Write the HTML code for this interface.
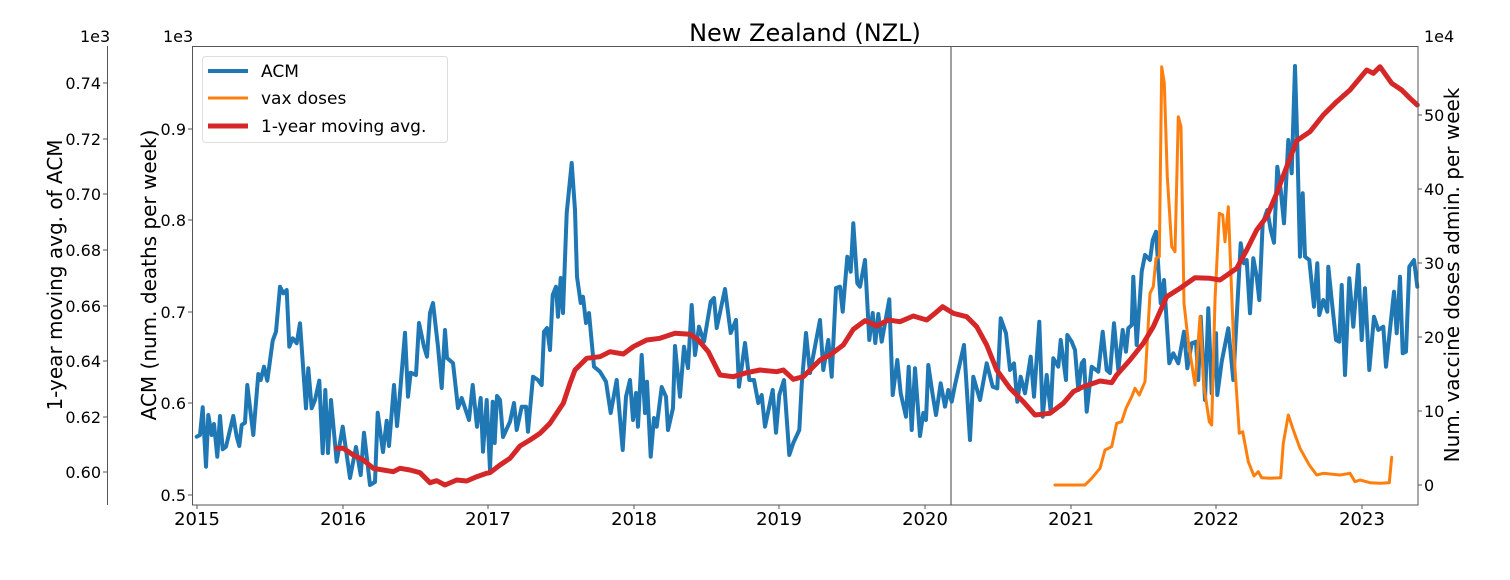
<!DOCTYPE html>
<html><head><meta charset="utf-8"><style>
html,body{margin:0;padding:0;background:#fff}
svg{display:block}
text{font-family:"DejaVu Sans","Liberation Sans",sans-serif;fill:#000}
</style></head><body>
<svg width="1510" height="580" viewBox="0 0 1510 580" xmlns="http://www.w3.org/2000/svg">
<!-- title -->
<text x="805" y="41" font-size="24" text-anchor="middle">New Zealand (NZL)</text>
<!-- outer left axis -->
<line x1="107.5" y1="46" x2="107.5" y2="505" stroke="#555" stroke-width="1"/>
<g font-size="16" text-anchor="end">
<text x="80" y="42" text-anchor="start">1e3</text>
<line x1="103" y1="83" x2="107" y2="83" stroke="#555"/><text x="101" y="89">0.74</text>
<line x1="103" y1="139" x2="107" y2="139" stroke="#555"/><text x="101" y="145">0.72</text>
<line x1="103" y1="194" x2="107" y2="194" stroke="#555"/><text x="101" y="200">0.70</text>
<line x1="103" y1="250" x2="107" y2="250" stroke="#555"/><text x="101" y="256">0.68</text>
<line x1="103" y1="306" x2="107" y2="306" stroke="#555"/><text x="101" y="312">0.66</text>
<line x1="103" y1="361" x2="107" y2="361" stroke="#555"/><text x="101" y="367">0.64</text>
<line x1="103" y1="417" x2="107" y2="417" stroke="#555"/><text x="101" y="423">0.62</text>
<line x1="103" y1="472" x2="107" y2="472" stroke="#555"/><text x="101" y="478">0.60</text>
</g>
<text transform="translate(62,275) rotate(-90)" font-size="20" text-anchor="middle">1-year moving avg. of ACM</text>
<!-- main left axis -->
<g font-size="16" text-anchor="end">
<text x="163" y="42" text-anchor="start">1e3</text>
<line x1="188" y1="495" x2="192" y2="495" stroke="#555"/><text x="186" y="501">0.5</text>
<line x1="188" y1="403" x2="192" y2="403" stroke="#555"/><text x="186" y="409">0.6</text>
<line x1="188" y1="312" x2="192" y2="312" stroke="#555"/><text x="186" y="318">0.7</text>
<line x1="188" y1="220" x2="192" y2="220" stroke="#555"/><text x="186" y="226">0.8</text>
<line x1="188" y1="129" x2="192" y2="129" stroke="#555"/><text x="186" y="135">0.9</text>
</g>
<text transform="translate(156,275) rotate(-90)" font-size="20" text-anchor="middle">ACM (num. deaths per week)</text>
<!-- right axis -->
<g font-size="16" text-anchor="start">
<text x="1424" y="42">1e4</text>
<line x1="1418" y1="485" x2="1422" y2="485" stroke="#555"/><text x="1424" y="491">0</text>
<line x1="1418" y1="411" x2="1422" y2="411" stroke="#555"/><text x="1424" y="417">10</text>
<line x1="1418" y1="337" x2="1422" y2="337" stroke="#555"/><text x="1424" y="343">20</text>
<line x1="1418" y1="263" x2="1422" y2="263" stroke="#555"/><text x="1424" y="269">30</text>
<line x1="1418" y1="189" x2="1422" y2="189" stroke="#555"/><text x="1424" y="195">40</text>
<line x1="1418" y1="115" x2="1422" y2="115" stroke="#555"/><text x="1424" y="121">50</text>
</g>
<text transform="translate(1459,275) rotate(-90)" font-size="20" text-anchor="middle">Num. vaccine doses admin. per week</text>
<!-- x ticks -->
<g font-size="18" text-anchor="middle">
<line x1="197" y1="505" x2="197" y2="509" stroke="#555"/><text x="197" y="525">2015</text>
<line x1="343" y1="505" x2="343" y2="509" stroke="#555"/><text x="343" y="525">2016</text>
<line x1="488" y1="505" x2="488" y2="509" stroke="#555"/><text x="488" y="525">2017</text>
<line x1="634" y1="505" x2="634" y2="509" stroke="#555"/><text x="634" y="525">2018</text>
<line x1="779" y1="505" x2="779" y2="509" stroke="#555"/><text x="779" y="525">2019</text>
<line x1="925" y1="505" x2="925" y2="509" stroke="#555"/><text x="925" y="525">2020</text>
<line x1="1071" y1="505" x2="1071" y2="509" stroke="#555"/><text x="1071" y="525">2021</text>
<line x1="1216" y1="505" x2="1216" y2="509" stroke="#555"/><text x="1216" y="525">2022</text>
<line x1="1362" y1="505" x2="1362" y2="509" stroke="#555"/><text x="1362" y="525">2023</text>
</g>
<!-- vertical line -->
<line x1="951" y1="46" x2="951" y2="505" stroke="#808080" stroke-width="1.5"/>
<g fill="none" stroke-linejoin="round" stroke-linecap="round">
<!-- ACM blue -->
<polyline stroke="#1f77b4" stroke-width="4" points="196.7,436.7 200,435 202.7,407.3 206,466.7 208.3,415 211.7,435 214,424 217.3,456.7 220,416 222.7,449.3 226,446.7 233.3,416 236.7,436.7 239.3,446 241.7,425 245,422.7 247.3,385 253.3,435 258.3,374 260.7,380 264,366.7 267.3,380.7 272.7,340.7 276,331.7 280,286.7 283.3,293.3 286.7,290 289.3,346.7 292.7,338.3 296.7,343.3 300,323.3 306,408.3 308.3,368.3 311.7,408.3 315,400 319.3,380.7 322.7,453.3 325.3,390 328,453 331,400 336.7,461.7 342.7,426.7 350,478 356,447 360.7,475 364,432.7 370,485 375,482 377.7,412.7 383,452 386.7,420.7 389,446 394,385 397,426 399,405 405,332.7 408,396.7 410.7,372.7 416,375 419,323 424,346.7 427,356.7 430,313 433,303 438,346.7 441.7,388 445,330 447,358 453,363 458,408 461.7,398 469,420 472.7,385 477,426.7 480.7,398 483,451.7 486.7,400 490,470 492.7,401.7 494.7,443 497,396 500,400 503,437 510,421.7 514,403 516.7,430 521.7,406.7 526,406.7 528,431.7 533,376.7 538,380 541.7,385 544,331.7 547,328 550,350 552.7,295 556,286.7 558,316.7 560.7,278 563,313 566.7,213 571.7,163 575,210 577,276.7 580.7,303 583,296.7 586,323 589,313 594,366.7 600,371.7 606,381.7 610.7,413 616.7,380 622.7,450 626,396.7 630,380 633,420 636,393 638,426.7 641.7,355 645,413 647,381.7 650.7,456.7 654,418 656.7,426.7 661.7,387 666,396.7 668,430 673,408 675,346 680,396.7 684,346.7 688,368 691.7,305 695,355 699,326.7 704,341.7 710.7,301.7 714,298 716.7,328 725,289 730.7,333 736,320 739,386.7 745,343 749.3,380 754,380 758.3,403 761.7,395 765,426.7 772.7,390 776,432.7 779.3,395 784,380 789.3,455 793.3,443 799.3,430 801.7,385 806,333 810,373 820,320 823.3,370 828.3,340 831.7,376.7 836,288 840,286.7 842.7,311.7 847.3,256.7 850.7,271.7 853.3,223.3 857.3,283.3 860,286.7 865,260 869.3,340 872.7,313 875.3,343 878.3,314 881.7,341.7 889.3,299.3 892.7,395 897.3,360 900.7,393.3 906,416.7 908.7,366.7 911.7,430 915,368.3 920,436 923.3,413 926,420 928.3,365 932.7,395 936,415 940.7,383.3 945,406.7 948.3,390 951.7,401.7 955,385 964,345 970,440 973.3,376.7 980,400 986.7,363.3 992.7,386.7 997.3,388.3 1000.7,318.3 1006,333.3 1010,370 1014,363.3 1017.3,401.7 1020.7,376.7 1025,393.3 1030.7,356.7 1034,396.7 1039.3,321.7 1042.7,416.7 1046.7,375 1050.7,411.7 1053.3,358.3 1058.3,366.7 1060.7,340 1066,380 1067.3,335 1071.7,341.7 1075,350 1078.3,390 1081.7,363.3 1084,360 1086.7,411.7 1091.7,366.7 1098.3,371.7 1102.7,331.7 1106.7,370 1110,373 1114,323.3 1118.3,370 1122.7,330 1126,351.7 1128.3,328.3 1131.7,325 1133.3,276.7 1136.7,345 1141.7,271.7 1145,255 1150,260 1152.7,240 1156,231.7 1160.7,303.3 1164,280 1169.3,363.3 1173.3,353.3 1178.3,363.3 1184,331.7 1187.3,368.3 1191.7,343.3 1196,341.7 1198.3,380 1200.7,316.7 1205,400 1208.3,308.3 1211.7,393.3 1216,333.3 1217.3,395 1221.7,361.7 1228.3,328.3 1233.3,380 1240.7,243.3 1244,263.3 1246.7,260 1250,313.3 1253.3,258.3 1256.7,276.7 1259.3,300 1262.7,223.3 1267.3,210 1270.7,230 1274,242.7 1277.3,166.7 1280.7,190 1284,223.3 1288.3,140 1291.7,173.3 1295,66 1297.3,143.3 1300,256.7 1302.7,193.3 1305,256.7 1309.3,260 1314,306.7 1317.3,263.3 1319.3,315 1323.3,300 1327.3,311.7 1328.3,266.7 1331.7,300 1336,340 1339.3,341.7 1341.7,285 1345,375 1349.3,278.3 1353.3,326.7 1358.3,265 1361.7,340 1365,288.3 1369.3,370 1374,316.7 1378.3,330 1383.3,326.7 1386,366.7 1394,291.7 1396.7,333.3 1400,276.7 1402.7,353.3 1406,351.7 1409.3,266.7 1414,260 1417.3,286.7"/>
<!-- vax orange -->
<polyline stroke="#ff7f0e" stroke-width="3" points="1055,485 1085,485 1091.7,478.3 1100,468.3 1105,450 1111.7,446.7 1116.7,423.3 1121.7,421.7 1126,408.3 1131.7,396.7 1135,388.3 1139.3,395 1145,381.7 1150,293.3 1153.3,286.7 1156,258.3 1159.3,256.7 1161.7,66.7 1164.3,83.3 1167.3,176.7 1171.7,246.7 1175,251.7 1178.3,116.7 1181,126.7 1184,303.3 1188.3,341.7 1195,385 1200,316.7 1204,386.7 1209.3,421.7 1211.7,425 1215,300 1219.3,213.3 1222.7,215 1225,241.7 1228.3,206.7 1234,353.3 1239.3,433.3 1242.7,431.7 1248.3,461.7 1254,476 1258.3,471.7 1261.7,477.7 1270,478.3 1280.7,477.7 1283.3,443.3 1288.3,415 1293.3,430 1300,448.3 1309.3,465 1316.7,475 1323.3,473.3 1330,474 1340,475 1350,473.3 1355,481.7 1360,480 1370,482.7 1380,483.3 1389.3,482.7 1391.7,457.3"/>
<!-- moving avg red -->
<polyline stroke="#d62728" stroke-width="5" points="336.7,448.3 343.3,448.3 353.3,455 363.3,460 373.3,468.3 383.3,470 393.3,471.7 400,468.3 410,470 420,472.7 430,482.7 436.7,480.7 445,485 456.7,480 466.7,481 476.7,476.7 486.7,473.3 490,472.7 500,465 510,458.3 520,446 530,440 540,433.3 550,423.3 563.3,403.3 570,383.3 575,370 586.7,358.3 600,356.7 610,351.7 623.3,354 633.3,346.7 646.7,340 660,338.3 675,333.3 690,334.3 698.3,340 708.3,351.7 720,375 733.3,376.7 746.7,372.7 760,370 776.7,371.7 783.3,370 793.3,379.3 803.3,376.7 810,370 820,360 830,355 843.3,345 853.3,329.3 865,320.7 876.7,326 888.3,320 900,321.7 913.3,316 926.7,320 935,313.3 942.7,306.7 953.3,313.3 966.7,316.7 976.7,326.7 986.7,345 996.7,370 1010,388.3 1023.3,401.7 1035,415 1050,413.3 1063.3,403.3 1073.3,391.7 1083.3,386.7 1100,381 1111.7,382.7 1116.7,375 1130,360 1143.3,343.3 1153.3,326.7 1166.7,296.7 1180,288.3 1195,277.7 1210,278.3 1220,280 1236.7,268.3 1246.7,250 1256.7,230 1266.7,216.7 1276.7,193.3 1286.7,166.7 1296.7,140.7 1310,131.7 1323.3,115 1336.7,101.7 1350,90 1366.7,70 1373.3,73.3 1380,66.7 1391.7,83.3 1401.7,90 1410,98.3 1417.3,105"/>
</g>
<!-- axes frame -->
<rect x="192.5" y="46.5" width="1225.5" height="458.5" fill="none" stroke="#555" stroke-width="1"/>
<!-- legend -->
<rect x="202.5" y="56.5" width="245" height="86" rx="3" fill="#fff" fill-opacity="0.8" stroke="#ddd"/>
<line x1="208" y1="71" x2="248" y2="71" stroke="#1f77b4" stroke-width="4"/>
<line x1="208" y1="98" x2="248" y2="98" stroke="#ff7f0e" stroke-width="3"/>
<line x1="208" y1="126" x2="248" y2="126" stroke="#d62728" stroke-width="5"/>
<g font-size="17">
<text x="261" y="77">ACM</text>
<text x="261" y="104">vax doses</text>
<text x="261" y="132">1-year moving avg.</text>
</g>
</svg>
</body></html>
